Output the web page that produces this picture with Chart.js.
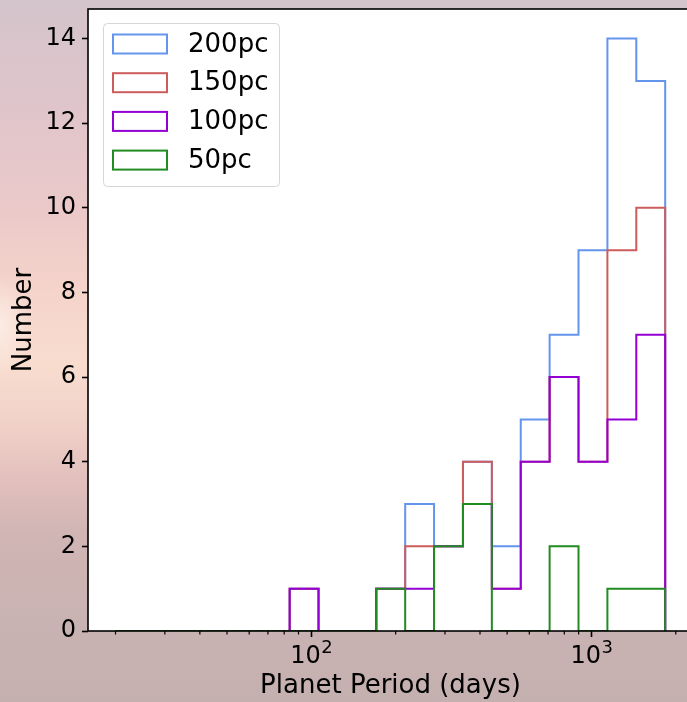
<!DOCTYPE html>
<html>
<head>
<meta charset="utf-8">
<script src="https://cdn.jsdelivr.net/npm/chart.js@4.4.0/dist/chart.umd.min.js"></script>
<style>
html, body { margin: 0; padding: 0; width: 687px; height: 702px; overflow: hidden; }
body {
    background:
        radial-gradient(ellipse 30px 50px at 0px 325px, rgba(255,250,245,0.6), rgba(255,250,245,0) 100%),
        linear-gradient(to bottom, #d4c4cb 0%, #dfc5cb 15%, #ebc9c9 30%, #f5d4cb 42%, #f8ddcf 52%, #f1d2c9 60%, #e3c0bd 68%, #d0b5b4 76%, #c9b3b2 88%, #c5b0b0 100%);
}
#contenedor { position: absolute; left: 0; top: 0; width: 696px; height: 702px; }
</style>
</head>
<body>
<div id="contenedor"><canvas id="chartPeriodo" width="696" height="702"></canvas></div>
<script>
// bordes de los bins (dias), espaciados en log
const binEdges = [20.1, 25.5, 32.4, 41.0, 52.0, 66.0, 83.7, 106.1, 134.5, 170.5, 216.3, 274.2, 347.8, 441.0, 559.2, 709.0, 899.0, 1140, 1445.6, 1833.1];

// cuentas por bin para cada distancia
const cuenta200 = [0, 0, 0, 0, 0, 0, 1, 0, 0, 1, 3, 2, 4, 2, 5, 7, 9, 14, 13];
const cuenta150 = [0, 0, 0, 0, 0, 0, 1, 0, 0, 1, 2, 2, 4, 1, 4, 6, 4, 9, 10];
const cuenta100 = [0, 0, 0, 0, 0, 0, 1, 0, 0, 1, 1, 2, 3, 1, 4, 6, 4, 5, 7];
const cuenta50 = [0, 0, 0, 0, 0, 0, 0, 0, 0, 1, 0, 2, 3, 0, 0, 2, 0, 1, 1];

const etiquetas = ['200pc', '150pc', '100pc', '50pc'];
const colores = ['#6495ed', '#cd5c5c', '#9400d3', '#228b22'];

const ticksY = [0, 2, 4, 6, 8, 10, 12, 14];
const ticksX = [20, 30, 40, 50, 60, 70, 80, 90, 100, 200, 300, 400, 500, 600, 700, 800, 900, 1000, 2000];
// etiquetas mayores del eje x: base y exponente
const etiquetasX = { 100: ['10', '2'], 1000: ['10', '3'] };

const fuente = 'DejaVu Sans';
Chart.defaults.font.family = fuente;
Chart.defaults.color = '#000';

// convierte cuentas en el contorno tipo "step"
const puntosEscalon = (cuentas) => {
    const pts = [{ x: binEdges[0], y: 0 }];
    cuentas.forEach((c, i) => pts.push({ x: binEdges[i], y: c }));
    pts.push({ x: binEdges[binEdges.length - 1], y: 0 });
    return pts;
};

const series = [cuenta200, cuenta150, cuenta100, cuenta50];

// fondo blanco del area de la grafica
const fondoBlanco = {
    id: 'fondoBlanco',
    beforeDraw(chart) {
        const { ctx, chartArea: a } = chart;
        ctx.save();
        ctx.fillStyle = '#fff';
        ctx.fillRect(a.left, a.top, a.right - a.left, a.bottom - a.top);
        ctx.restore();
    }
};

// marco, ticks menores, etiquetas con exponente y leyenda
const marcoYLeyenda = {
    id: 'marcoYLeyenda',
    afterDatasetsDraw(chart) {
        const { ctx, chartArea: a, scales } = chart;
        ctx.save();
        ctx.strokeStyle = '#000';
        ctx.lineWidth = 1.6;
        ctx.strokeRect(a.left, a.top, a.right - a.left, a.bottom - a.top);

        // ticks menores eje x
        ctx.lineWidth = 1.2;
        ticksX.forEach(v => {
            if (etiquetasX[v]) return;
            const px = scales.x.getPixelForValue(v);
            ctx.beginPath();
            ctx.moveTo(px, a.bottom);
            ctx.lineTo(px, a.bottom + 3.5);
            ctx.stroke();
        });

        // etiquetas 10^n
        ctx.fillStyle = '#000';
        ctx.textBaseline = 'alphabetic';
        ctx.textAlign = 'left';
        Object.keys(etiquetasX).forEach(k => {
            const [base, exp] = etiquetasX[k];
            const px = scales.x.getPixelForValue(Number(k));
            ctx.font = `24px "${fuente}"`;
            const wb = ctx.measureText(base).width;
            ctx.font = `18px "${fuente}"`;
            const we = ctx.measureText(exp).width;
            const x0 = px - (wb + we) / 2;
            ctx.font = `24px "${fuente}"`;
            ctx.fillText(base, x0, a.bottom + 31.5);
            ctx.font = `18px "${fuente}"`;
            ctx.fillText(exp, x0 + wb + 0.5, a.bottom + 22);
        });

        // leyenda
        const x0 = 103, y0 = 23, w = 176, h = 163;
        ctx.beginPath();
        ctx.roundRect(x0 + 0.5, y0 + 0.5, w, h, 4);
        ctx.fillStyle = 'rgba(255,255,255,0.85)';
        ctx.fill();
        ctx.strokeStyle = '#d6d6d6';
        ctx.lineWidth = 1;
        ctx.stroke();

        ctx.font = `26px "${fuente}"`;
        ctx.textBaseline = 'middle';
        chart.data.datasets.forEach((ds, i) => {
            const cy = 44 + i * 38.7;
            ctx.strokeStyle = ds.borderColor;
            ctx.lineWidth = 2;
            ctx.strokeRect(113, cy - 9.5, 54, 19);
            ctx.fillStyle = '#000';
            ctx.fillText(ds.label, 188, cy + 1);
        });
        ctx.restore();
    }
};

new Chart(document.getElementById('chartPeriodo'), {
    type: 'line',
    data: {
        datasets: series.map((cuentas, i) => ({
            label: etiquetas[i],
            data: puntosEscalon(cuentas),
            borderColor: colores[i],
            borderWidth: 2,
            pointRadius: 0,
            fill: false,
            stepped: 'before',
            order: series.length - 1 - i
        }))
    },
    options: {
        responsive: false,
        animation: false,
        devicePixelRatio: 1,
        layout: { padding: { top: 9, right: 3, left: 0, bottom: 0 } },
        plugins: {
            legend: { display: false },
            tooltip: { enabled: false }
        },
        scales: {
            x: {
                type: 'logarithmic',
                min: 15.95,
                max: 2304,
                border: { display: false },
                grid: {
                    drawOnChartArea: false,
                    drawTicks: true,
                    tickLength: 6,
                    tickWidth: 1.6,
                    tickColor: (c) => (c.tick && etiquetasX[c.tick.value]) ? '#000' : 'rgba(0,0,0,0)'
                },
                afterBuildTicks: (scale) => {
                    scale.ticks = ticksX.map(v => ({ value: v }));
                },
                afterFit: (scale) => {
                    scale.height = 71;
                    scale.paddingLeft = 0;
                    scale.paddingRight = 0;
                },
                ticks: {
                    autoSkip: false,
                    maxRotation: 0,
                    padding: 0,
                    font: { size: 24 },
                    color: '#000',
                    callback: () => ''
                },
                title: {
                    display: true,
                    text: 'Planet Period (days)',
                    font: { size: 26 },
                    color: '#000',
                    padding: { top: 0, bottom: 0 }
                }
            },
            y: {
                type: 'linear',
                min: 0,
                max: 14.7,
                border: { display: false },
                grid: {
                    drawOnChartArea: false,
                    drawTicks: true,
                    tickLength: 6,
                    tickWidth: 1.6,
                    tickColor: '#000'
                },
                afterBuildTicks: (scale) => {
                    scale.ticks = ticksY.map(v => ({ value: v }));
                },
                afterFit: (scale) => {
                    scale.width = 88;
                    scale.paddingTop = 0;
                    scale.paddingBottom = 0;
                },
                ticks: {
                    padding: 6,
                    font: { size: 24 },
                    color: '#000'
                },
                title: {
                    display: true,
                    text: 'Number',
                    font: { size: 26 },
                    color: '#000',
                    padding: { top: 9, bottom: 0 }
                }
            }
        }
    },
    plugins: [fondoBlanco, marcoYLeyenda]
});
</script>
</body>
</html>
